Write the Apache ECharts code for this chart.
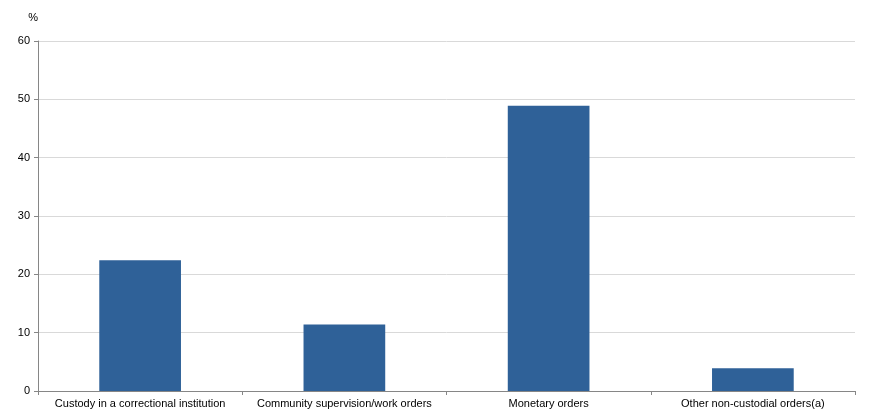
<!DOCTYPE html>
<html>
<head>
<meta charset="utf-8">
<script src="https://cdn.jsdelivr.net/npm/echarts@6/dist/echarts.min.js"></script>
<style>
  html, body { margin: 0; padding: 0; background: #fff; }
  #chart { width: 869px; height: 416px; }
</style>
</head>
<body>
<div id="chart"></div>
<script>
// sentence types, per cent
const categories = [
  "Custody in a correctional institution",
  "Community supervision/work orders",
  "Monetary orders",
  "Other non-custodial orders(a)"
];
const percentValues = [22.4, 11.4, 48.9, 3.9];
const yTicks = [0, 10, 20, 30, 40, 50, 60];

var myChart = echarts.init(document.getElementById("chart"));
myChart.setOption({
  animation: false,
  textStyle: { fontFamily: "Liberation Sans, Arial, sans-serif" },
  grid: { left: 38, right: 14, top: 41, bottom: 25, containLabel: false },
  xAxis: {
    type: "category",
    data: categories,
    axisLine: { lineStyle: { color: "#868686", width: 1 } },
    axisTick: { show: true, alignWithLabel: false, length: 4, lineStyle: { color: "#868686" } },
    axisLabel: { color: "#000", fontSize: 11, margin: 7, interval: 0 }
  },
  yAxis: {
    type: "value",
    name: "%",
    nameLocation: "end",
    nameGap: 18,
    nameTextStyle: { color: "#000", fontSize: 11, align: "right", padding: [0, 0, 0, 0] },
    min: yTicks[0],
    max: yTicks[yTicks.length - 1],
    interval: 10,
    axisLine: { show: true, lineStyle: { color: "#868686", width: 1 } },
    axisTick: { show: true, length: 4, lineStyle: { color: "#868686" } },
    axisLabel: { color: "#000", fontSize: 11, margin: 8 },
    splitLine: { lineStyle: { color: "#d9d9d9", width: 1 } }
  },
  series: [{
    type: "bar",
    data: percentValues,
    barWidth: "40%",
    itemStyle: { color: "#2f6198" }
  }]
});
</script>
</body>
</html>
